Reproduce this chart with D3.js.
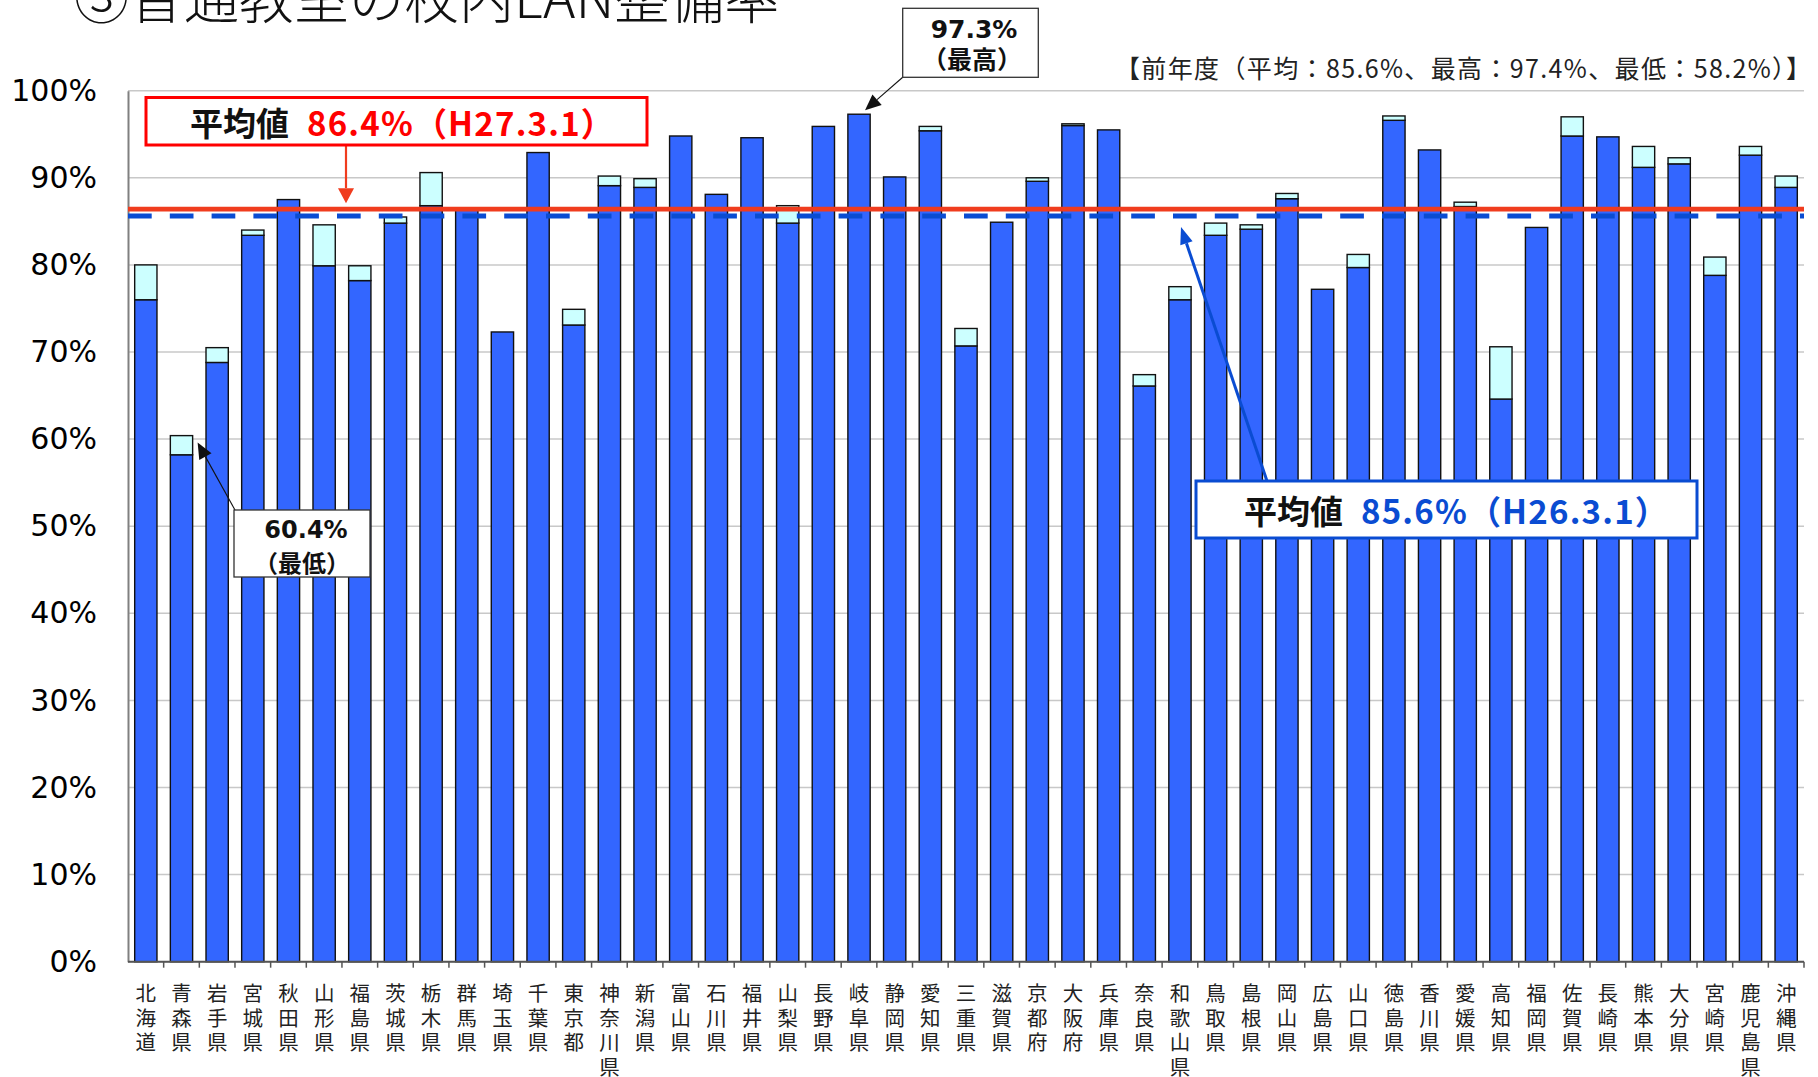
<!DOCTYPE html>
<html>
<head>
<meta charset="utf-8">
<script src="https://cdn.jsdelivr.net/npm/d3@7"></script>
<style>
  body { margin: 0; background: #fff; }
  svg { display: block; }
</style>
</head>
<body>
<div id="chart"></div>
<script>
// prefectures, in the order of the chart
const prefs = ["北海道","青森県","岩手県","宮城県","秋田県","山形県","福島県","茨城県","栃木県","群馬県",
  "埼玉県","千葉県","東京都","神奈川県","新潟県","富山県","石川県","福井県","山梨県","長野県",
  "岐阜県","静岡県","愛知県","三重県","滋賀県","京都府","大阪府","兵庫県","奈良県","和歌山県",
  "鳥取県","島根県","岡山県","広島県","山口県","徳島県","香川県","愛媛県","高知県","福岡県",
  "佐賀県","長崎県","熊本県","大分県","宮崎県","鹿児島県","沖縄県"];

// H26.3.1 rate (blue part), in %
const rateH26 = [76.0,58.2,68.8,83.4,87.5,79.9,78.2,84.8,86.8,86.5,
  72.3,92.9,73.1,89.1,88.9,94.8,88.1,94.6,84.8,95.9,
  97.3,90.1,95.4,70.7,84.9,89.6,96.0,95.5,66.1,76.0,
  83.4,84.1,87.6,77.2,79.7,96.6,93.2,86.7,64.6,84.3,
  94.8,94.7,91.2,91.6,78.8,92.6,88.9];

// H27.3.1 rate (top of the light part), in %
const rateH27 = [80.0,60.4,70.5,84.0,87.5,84.6,79.9,85.5,90.6,86.5,
  72.3,92.9,74.9,90.2,89.9,94.8,88.1,94.6,86.8,95.9,
  97.3,90.1,95.9,72.7,84.9,90.0,96.2,95.5,67.4,77.5,
  84.8,84.6,88.2,77.2,81.2,97.1,93.2,87.2,70.6,84.3,
  97.0,94.7,93.6,92.3,80.9,93.6,90.2];

const yTicks = [0,10,20,30,40,50,60,70,80,90,100];
const avgH27 = 86.4;
const avgH26 = 85.6;
const maxH27 = 97.3, minH27 = 60.4;

const W = 1818, H = 1077;
const plotLeft = 128, plotRight = 1804, plotTop = 90.7, plotBottom = 961.7;

const svg = d3.select("#chart").append("svg")
  .attr("width", W)
  .attr("height", H)
  .attr("viewBox", [0, 0, W, H].join(" "));

const x = d3.scaleBand()
  .domain(prefs)
  .range([plotLeft, plotRight])
  .paddingInner(0.375)
  .paddingOuter(0.1875);

const y = d3.scaleLinear()
  .domain([0, 100])
  .range([plotBottom, plotTop]);

const jp = "'Noto Sans CJK JP', 'Noto Sans', sans-serif";

// title, top is cut off in the original
svg.append("text")
  .text("③普通教室の校内LAN整備率")
  .attr("x", 74)
  .attr("y", 18)
  .attr("font-family", jp)
  .attr("font-size", 55)
  .attr("font-weight", 300)
  .attr("fill", "#111");

// grid
svg.append("g")
  .attr("class", "grid")
  .selectAll("line")
  .data(yTicks)
  .enter()
  .append("line")
  .attr("x1", plotLeft)
  .attr("x2", plotRight)
  .attr("y1", d => y(d))
  .attr("y2", d => y(d))
  .attr("stroke", "#c8c8c8")
  .attr("stroke-width", 1.5);

// y axis
const yAxis = svg.append("g")
  .attr("transform", "translate(" + plotLeft + ",0)")
  .call(d3.axisLeft(y).tickValues(yTicks).tickSize(0).tickPadding(31).tickFormat(d => d + "%"));
yAxis.select(".domain").attr("stroke", "#808080").attr("stroke-width", 2);
yAxis.selectAll("text")
  .attr("font-family", "'DejaVu Sans', Verdana, sans-serif")
  .attr("font-size", 30)
  .attr("fill", "#000");

// bars: blue = H26, light = increase to H27
const bars = svg.append("g").attr("class", "bars");
bars.selectAll("rect.base")
  .data(prefs)
  .enter()
  .append("rect")
  .attr("class", "base")
  .attr("x", d => x(d))
  .attr("width", x.bandwidth())
  .attr("y", (d, i) => y(rateH26[i]))
  .attr("height", (d, i) => y(0) - y(rateH26[i]))
  .attr("fill", "#3366ff")
  .attr("stroke", "#111")
  .attr("stroke-width", 1.4);

bars.selectAll("rect.inc")
  .data(prefs.filter((d, i) => rateH27[i] > rateH26[i]))
  .enter()
  .append("rect")
  .attr("class", "inc")
  .attr("x", d => x(d))
  .attr("width", x.bandwidth())
  .attr("y", d => y(rateH27[prefs.indexOf(d)]))
  .attr("height", d => y(rateH26[prefs.indexOf(d)]) - y(rateH27[prefs.indexOf(d)]))
  .attr("fill", "#ccffff")
  .attr("stroke", "#111")
  .attr("stroke-width", 1.4);

// x axis with ticks between the categories
const step = x.step();
svg.append("line")
  .attr("x1", plotLeft)
  .attr("x2", plotRight)
  .attr("y1", plotBottom)
  .attr("y2", plotBottom)
  .attr("stroke", "#555")
  .attr("stroke-width", 2);
svg.append("g")
  .selectAll("line")
  .data(prefs)
  .enter()
  .append("line")
  .attr("x1", d => x(d) + x.bandwidth() + (step - x.bandwidth()) / 2)
  .attr("x2", d => x(d) + x.bandwidth() + (step - x.bandwidth()) / 2)
  .attr("y1", plotBottom)
  .attr("y2", plotBottom + 6)
  .attr("stroke", "#555")
  .attr("stroke-width", 1.5);

// vertical labels, one character per row
svg.append("g")
  .attr("class", "xlabels")
  .selectAll("g")
  .data(prefs)
  .enter()
  .append("g")
  .each(function(d) {
    const cx = x(d) + x.bandwidth() / 2;
    d3.select(this).selectAll("text")
      .data(d.split(""))
      .enter()
      .append("text")
      .text(ch => ch)
      .attr("x", cx)
      .attr("y", (ch, k) => 992 + k * 24.5)
      .attr("dominant-baseline", "central")
      .attr("text-anchor", "middle")
      .attr("font-family", jp)
      .attr("font-size", 20.5)
      .attr("fill", "#222");
  });

// average lines
svg.append("line")
  .attr("x1", plotLeft)
  .attr("x2", plotRight)
  .attr("y1", y(avgH26))
  .attr("y2", y(avgH26))
  .attr("stroke", "#0a4cd2")
  .attr("stroke-width", 5)
  .attr("stroke-dasharray", "23.7 18.1");

svg.append("line")
  .attr("x1", plotLeft)
  .attr("x2", plotRight)
  .attr("y1", y(avgH27))
  .attr("y2", y(avgH27))
  .attr("stroke", "#f03c1e")
  .attr("stroke-width", 4.8);

// arrow helper: line with a filled head ending at (x2,y2)
function arrow(g, x1, y1, x2, y2, color, w, hl, hw) {
  const a = Math.atan2(y2 - y1, x2 - x1);
  const bx = x2 - hl * Math.cos(a), by = y2 - hl * Math.sin(a);
  g.append("line")
    .attr("x1", x1).attr("y1", y1)
    .attr("x2", bx).attr("y2", by)
    .attr("stroke", color)
    .attr("stroke-width", w);
  const px = -Math.sin(a) * hw / 2, py = Math.cos(a) * hw / 2;
  g.append("path")
    .attr("d", "M" + x2 + "," + y2 + "L" + (bx + px) + "," + (by + py) + "L" + (bx - px) + "," + (by - py) + "Z")
    .attr("fill", color);
}

const notes = svg.append("g").attr("class", "notes");

// red average box
arrow(notes, 346, 145, 346, y(avgH27) - 6, "#f03c1e", 2.2, 15, 16);
notes.append("rect")
  .attr("x", 146).attr("y", 97.5)
  .attr("width", 501).attr("height", 47.5)
  .attr("fill", "#fff")
  .attr("stroke", "#ff0000")
  .attr("stroke-width", 3);
const redText = notes.append("text")
  .attr("x", 190)
  .attr("y", 122)
  .attr("dominant-baseline", "central")
  .attr("font-family", jp)
  .attr("font-size", 33)
  .attr("font-weight", "bold");
redText.append("tspan").text("平均値").attr("fill", "#111");
redText.append("tspan").text(avgH27.toFixed(1) + "%（H27.3.1）")
  .attr("fill", "#ff0000").attr("dx", 18).attr("letter-spacing", 1.2);

// blue average box
arrow(notes, 1267, 481, 1181, y(avgH26) + 11, "#0a4cd2", 3, 17, 13);
notes.append("rect")
  .attr("x", 1196).attr("y", 481)
  .attr("width", 501).attr("height", 57)
  .attr("fill", "#fff")
  .attr("stroke", "#0a4cd2")
  .attr("stroke-width", 3);
const blueText = notes.append("text")
  .attr("x", 1244)
  .attr("y", 510)
  .attr("dominant-baseline", "central")
  .attr("font-family", jp)
  .attr("font-size", 33)
  .attr("font-weight", "bold");
blueText.append("tspan").text("平均値").attr("fill", "#111");
blueText.append("tspan").text(avgH26.toFixed(1) + "%（H26.3.1）")
  .attr("fill", "#0a4cd2").attr("dx", 18).attr("letter-spacing", 1.2);

// highest
const iMax = rateH27.indexOf(maxH27);
arrow(notes, 903, 77, x(prefs[iMax]) + x.bandwidth() / 2 + 6, y(maxH27) - 4, "#111", 1.1, 16, 14);
notes.append("rect")
  .attr("x", 902.7).attr("y", 8.3)
  .attr("width", 135.6).attr("height", 69)
  .attr("fill", "#fff")
  .attr("stroke", "#333")
  .attr("stroke-width", 1.3);
notes.append("text")
  .text(maxH27.toFixed(1) + "%")
  .attr("x", 974).attr("y", 29)
  .attr("text-anchor", "middle")
  .attr("dominant-baseline", "central")
  .attr("font-family", "'DejaVu Sans', Verdana, sans-serif")
  .attr("font-size", 25)
  .attr("font-weight", "bold")
  .attr("fill", "#111");
notes.append("text")
  .text("（最高）")
  .attr("x", 972).attr("y", 58)
  .attr("text-anchor", "middle")
  .attr("dominant-baseline", "central")
  .attr("font-family", jp)
  .attr("font-size", 25)
  .attr("font-weight", "bold")
  .attr("fill", "#111");

// lowest
const iMin = rateH27.indexOf(minH27);
arrow(notes, 235, 510, x(prefs[iMin]) + x.bandwidth() + 5, y(minH27) + 7, "#111", 1.1, 16, 14);
notes.append("rect")
  .attr("x", 234).attr("y", 510)
  .attr("width", 136).attr("height", 67)
  .attr("fill", "#fff")
  .attr("stroke", "#333")
  .attr("stroke-width", 1.3);
notes.append("text")
  .text(minH27.toFixed(1) + "%")
  .attr("x", 306).attr("y", 530)
  .attr("text-anchor", "middle")
  .attr("dominant-baseline", "central")
  .attr("font-family", "'DejaVu Sans', Verdana, sans-serif")
  .attr("font-size", 24)
  .attr("font-weight", "bold")
  .attr("fill", "#111");
notes.append("text")
  .text("（最低）")
  .attr("x", 302).attr("y", 561)
  .attr("text-anchor", "middle")
  .attr("dominant-baseline", "central")
  .attr("font-family", jp)
  .attr("font-size", 24)
  .attr("font-weight", "bold")
  .attr("fill", "#111");

// previous year note
notes.append("text")
  .text("【前年度（平均：" + avgH26.toFixed(1) + "%、最高：97.4%、最低：58.2%）】")
  .attr("x", 1115)
  .attr("y", 67)
  .attr("dominant-baseline", "central")
  .attr("font-family", jp)
  .attr("font-size", 25)
  .attr("textLength", 696)
  .attr("lengthAdjust", "spacing")
  .attr("fill", "#222");
</script>
</body>
</html>
